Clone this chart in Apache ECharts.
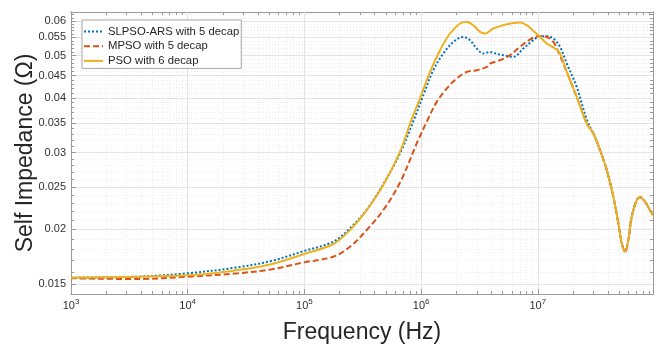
<!DOCTYPE html>
<html>
<head>
<meta charset="utf-8">
<script src="https://cdn.jsdelivr.net/npm/echarts@6/dist/echarts.min.js"></script>
<style>
  html, body { margin: 0; background: #fff; }
  #chart { width: 664px; height: 347px; }
</style>
</head>
<body>
<div id="chart"></div>
<script>
// SLPSO-ARS with 5 decap
const slpsoFreq = [1000, 3730, 1.0e4, 26820, 51730, 99220, 176900, 245900, 341900, 474500, 659700, 857600,
  1.044e6, 1.272e6, 1.55e6, 1.888e6, 2.299e6, 2.624e6, 2.996e6, 3.412e6, 3.895e6, 4.157e6, 5.063e6, 6.166e6,
  7.51e6, 9.15e6, 1.044e7, 1.192e7, 1.358e7, 1.55e7, 1.769e7, 2.154e7, 2.624e7]
const slpsoZ = [0.01551, 0.01559, 0.01587, 0.01638, 0.01693, 0.01785, 0.01875, 0.02012, 0.0222, 0.0254, 0.02985, 0.03537,
  0.04057, 0.04629, 0.05055, 0.05373, 0.05516, 0.05422, 0.0519, 0.05055, 0.05097, 0.0507, 0.0501, 0.04965,
  0.0519, 0.05422, 0.05537, 0.05537, 0.05471, 0.05234, 0.04795, 0.04239, 0.0357]

// MPSO with 5 decap
const mpsoFreq = [1000, 3730, 1.0e4, 26820, 51730, 99220, 176900, 245900, 341900, 474500, 659700, 917000,
  1.152e6, 1.36e6, 1.658e6, 2.019e6, 2.459e6, 2.996e6, 3.649e6, 3.895e6, 4.744e6, 5.779e6, 7.04e6, 8.574e6,
  1.01e7, 1.192e7, 1.358e7, 1.498e7, 1.654e7, 1.769e7, 2.154e7, 2.624e7]
const mpsoZ = [0.01546, 0.0154, 0.01559, 0.01587, 0.0162, 0.01681, 0.01732, 0.01826, 0.01994, 0.02215, 0.0256, 0.03146,
  0.03589, 0.03917, 0.04203, 0.0443, 0.04587, 0.04629, 0.0471, 0.04795, 0.04879, 0.0501, 0.05234, 0.05442,
  0.05537, 0.05516, 0.05373, 0.05097, 0.04795, 0.04587, 0.04021, 0.03495]

// PSO with 6 decap
const psoFreq = [1000, 1.0e4, 26820, 51730, 99220, 176900, 245900, 341900, 474500, 659700, 830700, 978700,
  1.192e6, 1.452e6, 1.769e6, 2.154e6, 2.459e6, 2.802e6, 3.196e6, 3.528e6, 4.157e6, 5.415e6, 7.04e6, 8.034e6,
  9.15e6, 1.044e7, 1.192e7, 1.404e7, 1.55e7, 1.769e7, 2.154e7, 2.624e7]
const psoZ = [0.01551, 0.0157, 0.01614, 0.01664, 0.01757, 0.01852, 0.01994, 0.02215, 0.02527, 0.03013, 0.03576, 0.03988,
  0.04587, 0.05143, 0.05616, 0.0592, 0.05969, 0.05867, 0.05664, 0.05616, 0.05765, 0.05898, 0.05951, 0.05867,
  0.05694, 0.05516, 0.05328, 0.0519, 0.05055, 0.04587, 0.04021, 0.03495]

// above ~27 MHz the three curves coincide
const tailFreq = [2.99e7, 3.412e7, 3.895e7, 4.436e7, 4.897e7, 5.236e7, 5.587e7, 5.964e7, 6.376e7, 7.04e7, 7.51e7, 8.29e7, 9.46e7, 9.7e7]
const tailZ = [0.03316, 0.03037, 0.02734, 0.02376, 0.02065, 0.01859, 0.01778, 0.01892, 0.02138, 0.02335, 0.02368, 0.02314, 0.02177, 0.02157]

const xMin = 1000, xMax = 9.7e7
const yMin = 0.01423, yMax = 0.0629

const xMajor = [1e3, 1e4, 1e5, 1e6, 1e7]
const xMinor = xMajor.flatMap(d => [2, 3, 4, 5, 6, 7, 8, 9].map(m => m * d))
const yMajor = [0.015, 0.02, 0.025, 0.03, 0.035, 0.04, 0.045, 0.05, 0.055, 0.06]
const yMinor = [0.016, 0.017, 0.018, 0.019, 0.021, 0.022, 0.023, 0.024, 0.026, 0.027, 0.028, 0.029,
  0.031, 0.032, 0.033, 0.034, 0.036, 0.037, 0.038, 0.039, 0.041, 0.042, 0.043, 0.044,
  0.046, 0.047, 0.048, 0.049, 0.051, 0.052, 0.053, 0.054, 0.056, 0.057, 0.058, 0.059, 0.061, 0.062]

const axisColor = '#9a9a9a'
const labelColor = '#303030'

const pairs = (xs, ys) => xs.map((x, i) => [x, ys[i]])

// one axis per side and per tick level (major / minor)
function axis(dim, position, values, opts) {
  const isX = dim === 'x'
  return {
    type: 'log',
    logBase: 10,
    position: position,
    min: isX ? xMin : yMin,
    max: isX ? xMax : yMax,
    axisLine: { show: true, lineStyle: { color: axisColor, width: 1 } },
    axisTick: { show: true, inside: true, length: opts.tick, customValues: values, lineStyle: { color: axisColor } },
    axisLabel: opts.label ? Object.assign({ customValues: values }, opts.label) : { show: false },
    splitLine: opts.grid ? { show: true, lineStyle: opts.grid } : { show: false },
    minorTick: { show: false },
    minorSplitLine: { show: false },
    name: opts.name || '',
    nameLocation: 'middle',
    nameGap: opts.nameGap || 0,
    nameMoveOverlap: opts.moveName !== false,
    nameTextStyle: { fontSize: 23, color: '#262626', fontFamily: 'Liberation Sans' },
    silent: true,
    z: opts.z || 0
  }
}

const majorGrid = { color: '#e4e4e4', width: 1, type: 'solid' }
const minorGrid = { color: '#ececec', width: 1, type: [1, 2] }

const chart = echarts.init(document.getElementById('chart'), null, { renderer: 'canvas' })
chart.setOption({
  backgroundColor: '#fff',
  animation: false,
  textStyle: { fontFamily: 'Liberation Sans' },
  grid: { left: 71, right: 11, top: 12, bottom: 53, containLabel: false, outerBoundsMode: 'none' },
  legend: {
    left: 82,
    top: 20,
    orient: 'vertical',
    padding: [5, 2, 1, 1],
    itemGap: 1.7,
    itemWidth: 19,
    itemHeight: 13,
    itemStyle: { opacity: 0 },
    backgroundColor: '#fff',
    borderColor: '#a6a6a6',
    borderWidth: 1,
    borderRadius: 0,
    textStyle: { fontSize: 11.3, color: '#262626', lineHeight: 13 },
    data: ['SLPSO-ARS with 5 decap', 'MPSO with 5 decap', 'PSO with 6 decap']
  },
  xAxis: [
    axis('x', 'bottom', xMajor, {
      tick: 5, grid: majorGrid, z: 1,
      name: 'Frequency (Hz)', nameGap: 27,
      label: {
        margin: 4,
        formatter: v => '{b|10}{s|' + Math.round(Math.log10(v)) + '}',
        rich: {
          b: { fontSize: 11, color: labelColor },
          s: { fontSize: 8, color: labelColor, padding: [0, 0, 7, 0] }
        }
      }
    }),
    axis('x', 'bottom', xMinor, { tick: 3, grid: minorGrid }),
    axis('x', 'top', xMajor, { tick: 5 }),
    axis('x', 'top', xMinor, { tick: 3 })
  ],
  yAxis: [
    axis('y', 'left', yMajor, {
      tick: 5, grid: majorGrid, z: 1,
      name: 'Self Impedance (Ω)', nameGap: 34, moveName: false,
      label: {
        margin: 5,
        fontSize: 11,
        color: labelColor,
        formatter: v => String(Number(v.toPrecision(3)))
      }
    }),
    axis('y', 'left', yMinor, { tick: 3, grid: minorGrid }),
    axis('y', 'right', yMajor, { tick: 5 }),
    axis('y', 'right', yMinor, { tick: 3 })
  ],
  series: [
    {
      name: 'SLPSO-ARS with 5 decap',
      type: 'line',
      data: pairs(slpsoFreq.concat(tailFreq), slpsoZ.concat(tailZ)),
      smooth: 0.35,
      symbol: 'none',
      color: '#0072BD',
      lineStyle: { width: 2, type: [2, 2], color: '#0072BD' }
    },
    {
      name: 'MPSO with 5 decap',
      type: 'line',
      data: pairs(mpsoFreq.concat(tailFreq), mpsoZ.concat(tailZ)),
      smooth: 0.35,
      symbol: 'none',
      color: '#D95319',
      lineStyle: { width: 2, type: [6, 3], color: '#D95319' }
    },
    {
      name: 'PSO with 6 decap',
      type: 'line',
      data: pairs(psoFreq.concat(tailFreq), psoZ.concat(tailZ)),
      smooth: 0.35,
      symbol: 'none',
      color: '#EDB120',
      lineStyle: { width: 2, color: '#EDB120' }
    }
  ]
})
</script>
</body>
</html>
